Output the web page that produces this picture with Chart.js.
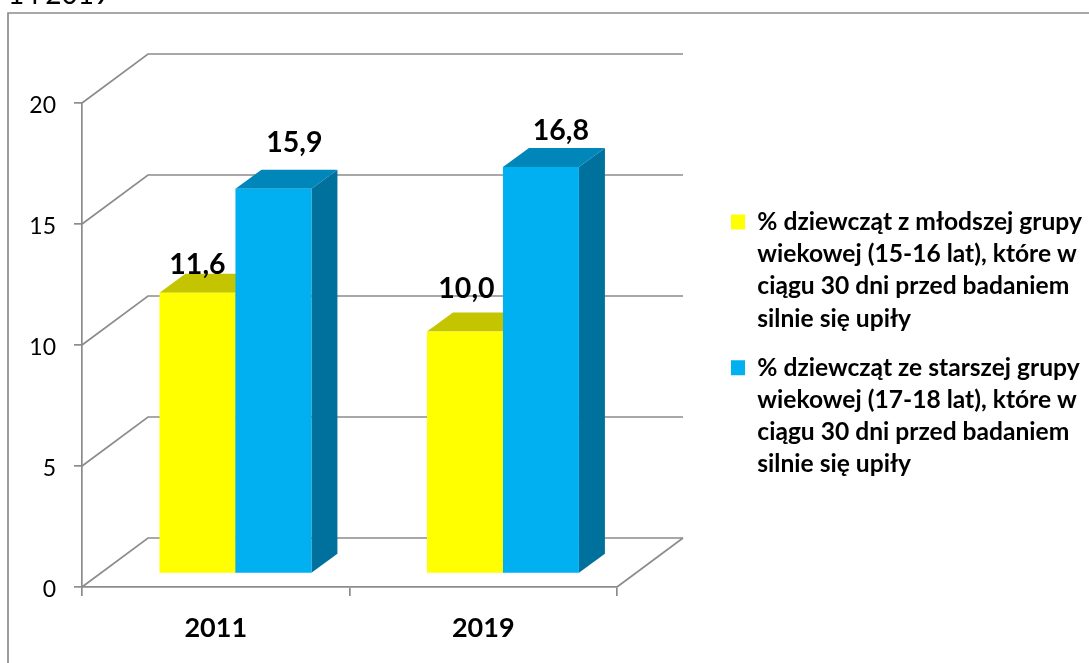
<!DOCTYPE html>
<html>
<head>
<meta charset="utf-8">
<script src="https://cdn.jsdelivr.net/npm/chart.js@4"></script>
<style>
  html, body { margin: 0; padding: 0; background: #fff; overflow: hidden; }
  #wrap { position: relative; width: 1089px; height: 663px; overflow: hidden; }
  #clipped { position: absolute; left: 8px; top: -24px; font: 28px/34px Lato, sans-serif; color: #000; white-space: pre; }
</style>
</head>
<body>
<div id="wrap">
  <div id="clipped">1 i 2019</div>
  <canvas id="wykres" width="1089" height="663"></canvas>
</div>
<script>
const lata = ['2011', '2019'];
const mlodsze = [11.6, 10.0];
const starsze = [15.9, 16.8];
const nazwaMlodsze = ['% dziewcząt z młodszej grupy', 'wiekowej (15-16 lat), które w', 'ciągu 30 dni przed badaniem', 'silnie się upiły'];
const nazwaStarsze = ['% dziewcząt ze starszej grupy', 'wiekowej (17-18 lat), które w', 'ciągu 30 dni przed badaniem', 'silnie się upiły'];

// wyglad 3D (przesuniecia w pikselach)
const GLEBIA = { x: 66, y: -49 };
const SLUPEK = { x: 26, y: -19 };
const PRZESUN = { x: 19.7, y: -13.5 };
const SZARY = '#8c8c8c';
const kolory = [
  { przod: '#ffff00', gora: '#c4c400', bok: '#a8a800' },
  { przod: '#00b0f0', gora: '#0086b8', bok: '#00719c' }
];
// recznie poprzesuwane etykiety, wzgledem srodka i gory slupka
const etykietyDx = [[0, 1.5], [21, 20]];
const etykietyDy = [[-28, -43], [-46, -36]];

function linia(ctx, pkt) {
  ctx.beginPath();
  pkt.forEach((p, i) => i ? ctx.lineTo(p[0], p[1]) : ctx.moveTo(p[0], p[1]));
  ctx.stroke();
}

function wielokat(ctx, pkt, kolor) {
  ctx.beginPath();
  pkt.forEach((p, i) => i ? ctx.lineTo(p[0], p[1]) : ctx.moveTo(p[0], p[1]));
  ctx.closePath();
  ctx.fillStyle = kolor;
  ctx.fill();
}

const tlo3d = {
  id: 'tlo3d',
  afterLayout(chart) {
    // legenda ma stac po prawej stronie wykresu, poza obszarem rysowania
    const l = chart.legend;
    l.left = 714;
    l.right = 1089;
    l.top = 192.6;
    l.bottom = 663;
  },
  beforeDatasetsDraw(chart) {
    const { ctx, scales: { y }, chartArea: a } = chart;
    ctx.save();
    ctx.strokeStyle = SZARY;
    ctx.lineWidth = 1.7;
    // ramka
    linia(ctx, [[8, 663], [8, 13], [1089, 13]]);
    y.ticks.forEach(t => {
      const py = y.getPixelForValue(t.value);
      linia(ctx, [[a.left, py], [a.left + GLEBIA.x, py + GLEBIA.y], [a.right + GLEBIA.x, py + GLEBIA.y]]);
    });
    linia(ctx, [[a.right, a.bottom], [a.right + GLEBIA.x, a.bottom + GLEBIA.y]]);
    ctx.restore();
  },
  // domyslnie ostatni zestaw jest na spodzie, a tu niebieskie slupki zaslaniaja zolte
  beforeDatasetDraw() {
    return false;
  },
  afterDatasetsDraw(chart) {
    const { ctx } = chart;
    chart.data.datasets.forEach((ds, i) => {
      const meta = chart.getDatasetMeta(i);
      const k = kolory[i];
      ctx.save();
      ctx.translate(PRZESUN.x, PRZESUN.y);
      meta.data.forEach(b => {
        const l = b.x - b.width / 2, r = b.x + b.width / 2;
        wielokat(ctx, [[r, b.y], [r + SLUPEK.x, b.y + SLUPEK.y], [r + SLUPEK.x, b.base + SLUPEK.y], [r, b.base]], k.bok);
        wielokat(ctx, [[l, b.y], [l + SLUPEK.x, b.y + SLUPEK.y], [r + SLUPEK.x, b.y + SLUPEK.y], [r, b.y]], k.gora);
      });
      meta.controller.draw();
      ctx.restore();
    });

    ctx.save();
    ctx.font = 'bold 28.5px Lato, sans-serif';
    ctx.fillStyle = '#000';
    ctx.textAlign = 'center';
    ctx.textBaseline = 'middle';
    chart.data.datasets.forEach((ds, i) => {
      chart.getDatasetMeta(i).data.forEach((b, j) => {
        const txt = ds.data[j].toFixed(1).replace('.', ',');
        ctx.fillText(txt, b.x + PRZESUN.x + etykietyDx[i][j], b.y + PRZESUN.y + etykietyDy[i][j]);
      });
    });
    ctx.restore();
  }
};

new Chart(document.getElementById('wykres'), {
  type: 'bar',
  data: {
    labels: lata,
    datasets: [
      { label: nazwaMlodsze, data: mlodsze, backgroundColor: kolory[0].przod },
      { label: nazwaStarsze, data: starsze, backgroundColor: kolory[1].przod }
    ]
  },
  options: {
    responsive: false,
    animation: false,
    layout: { padding: { left: 10, top: 103, right: 472, bottom: 10 } },
    datasets: { bar: { categoryPercentage: 0.568, barPercentage: 1 } },
    scales: {
      x: {
        grid: { drawOnChartArea: false, color: SZARY, lineWidth: 1.7, tickLength: 9 },
        border: { color: SZARY, width: 1.7 },
        ticks: { color: '#000', padding: 16, font: { family: 'Lato', weight: 'bold', size: 27 } },
        afterFit(s) { s.height = 66; }
      },
      y: {
        min: 0,
        max: 20,
        grid: { drawOnChartArea: false, color: SZARY, lineWidth: 1.7, tickLength: 8 },
        border: { color: SZARY, width: 1.7 },
        ticks: { stepSize: 5, color: '#000', padding: 18, labelOffset: 3, font: { family: 'Lato', size: 23 } },
        afterFit(s) { s.width = 72; }
      }
    },
    plugins: {
      title: { display: false },
      tooltip: { enabled: false },
      legend: {
        position: 'chartArea',
        align: 'start',
        labels: {
          color: '#000',
          boxWidth: 14,
          boxHeight: 15,
          padding: 17,
          font: { family: 'Lato', weight: 'bold', size: 24.6, lineHeight: 1.31 }
        }
      }
    }
  },
  plugins: [tlo3d]
});
</script>
</body>
</html>
